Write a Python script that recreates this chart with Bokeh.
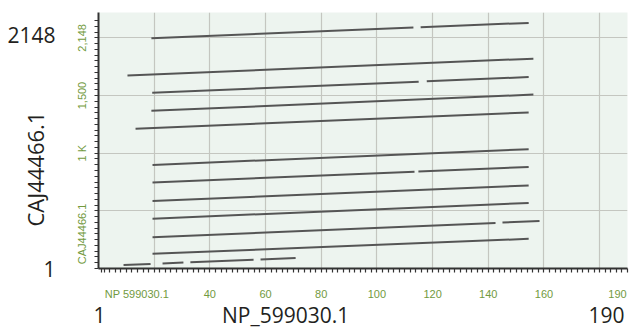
from bokeh.plotting import figure
from bokeh.models import Range1d, LinearAxis, FixedTicker, ColumnDataSource, Grid
from bokeh.embed import file_html
from bokeh.resources import INLINE

# ---- data: alignment segments (NP_599030.1 position vs CAJ44466.1 position)
seg_x0 = [19.0, 115.7, 10.4, 19.3, 117.9, 19.0, 13.3, 19.4, 19.4, 114.9, 19.4, 19.4, 19.4, 145.1, 19.4, 9.0, 23.0, 33.0, 58.2]
seg_y0 = [1997, 2093, 1674, 1525, 1623, 1367, 1212, 898, 746, 842, 585, 432, 271, 398, 127, 30, 44, 54, 78]
seg_x1 = [113.1, 154.5, 156.2, 115.0, 154.5, 156.2, 154.5, 154.5, 113.5, 154.5, 154.5, 154.5, 142.6, 158.4, 154.5, 18.7, 30.5, 55.7, 70.8]
seg_y1 = [2090, 2130, 1820, 1620, 1660, 1508, 1353, 1035, 840, 881, 720, 568, 395, 412, 257, 40, 52, 76, 90]

# ---- inner (green) axis ticks and labels
x_major = [1, 20, 40, 60, 80, 100, 120, 140, 160, 180, 190]
x_ticks = sorted(set(x_major + list(range(2, 190, 2))))
x_grid = [20, 40, 60, 80, 100, 120, 140, 160, 180]
x_label_pos = [13.8, 40, 60, 80, 100, 120, 140, 160, 186.4]
x_label_txt = ["NP 599030.1", "40", "60", "80", "100", "120", "140", "160", "190"]

y_major = [1, 500, 1000, 1500, 2000]
y_ticks = sorted(set(y_major + list(range(50, 2200, 50))))
y_grid = [500, 1000, 1500, 2000]
y_label_pos = [300, 1000, 1500, 2000]
y_label_txt = ["CAJ44466.1", "1 K", "1,500", "2,148"]

# ---- outer (black) labels
outer_x_pos = [0.4, 67.2, 182.5]
outer_x_txt = ["1", "NP_599030.1", "190"]
outer_y_pos = [0, 2025]
outer_y_txt = ["1", "2148"]
outer_y_title = "CAJ44466.1" + "\u00a0" * 10

PANEL = "#edf4ef"
GREEN = "#729a3e"
AXC = "#333333"
BLACK = "#231f20"

p = figure(width=629, height=331, output_backend="svg", toolbar_location=None,
           x_range=Range1d(0, 190), y_range=Range1d(0, 2220),
           x_axis_type=None, y_axis_type=None,
           min_border_left=98, min_border_right=2, min_border_top=12, min_border_bottom=10)
p.background_fill_color = PANEL
p.border_fill_color = "white"
p.outline_line_color = None

src = ColumnDataSource(dict(x0=seg_x0, y0=seg_y0, x1=seg_x1, y1=seg_y1))
p.segment("x0", "y0", "x1", "y1", source=src, line_color="#555555", line_width=2)

p.add_layout(Grid(dimension=0, ticker=FixedTicker(ticks=x_grid), grid_line_color="#c4c6c0", grid_line_width=1.2))
p.add_layout(Grid(dimension=1, ticker=FixedTicker(ticks=y_grid), grid_line_color="#c4c6c0", grid_line_width=1.2))


def green_axis(label_pos, label_txt, tick_pos, **kw):
    return LinearAxis(ticker=FixedTicker(ticks=label_pos, minor_ticks=tick_pos),
                      major_label_overrides={k: t for k, t in zip(label_pos, label_txt)},
                      axis_line_color=AXC, axis_line_width=2,
                      major_tick_line_color=None, major_tick_in=0, major_tick_out=0,
                      minor_tick_line_color=AXC, minor_tick_line_width=1.2,
                      minor_tick_in=0, minor_tick_out=4,
                      major_label_text_font="Liberation Sans", major_label_text_font_size="11px",
                      major_label_text_color=GREEN, **kw)


def black_axis(label_pos, label_txt, **kw):
    return LinearAxis(ticker=FixedTicker(ticks=label_pos, minor_ticks=[]),
                      major_label_overrides={k: t for k, t in zip(label_pos, label_txt)},
                      axis_line_color=None, major_tick_line_color=None, minor_tick_line_color=None,
                      major_tick_in=0, major_tick_out=0, minor_tick_in=0, minor_tick_out=0,
                      major_label_text_font="Open Sans", major_label_text_font_size="21px",
                      major_label_text_color=BLACK, **kw)


# bottom
p.add_layout(green_axis(x_label_pos, x_label_txt, x_ticks, major_label_standoff=15), "below")
p.add_layout(black_axis(outer_x_pos, outer_x_txt, major_label_standoff=-2), "below")

# left
p.add_layout(green_axis(y_label_pos, y_label_txt, y_ticks, major_label_standoff=6,
                        major_label_orientation="vertical"), "left")
p.add_layout(black_axis(outer_y_pos, outer_y_txt, major_label_standoff=18,
                        axis_label=outer_y_title, axis_label_standoff=-46,
                        axis_label_text_font="Open Sans", axis_label_text_font_size="22px",
                        axis_label_text_font_style="normal", axis_label_text_color=BLACK), "left")

open("out.html", "w").write(file_html(p, INLINE))
